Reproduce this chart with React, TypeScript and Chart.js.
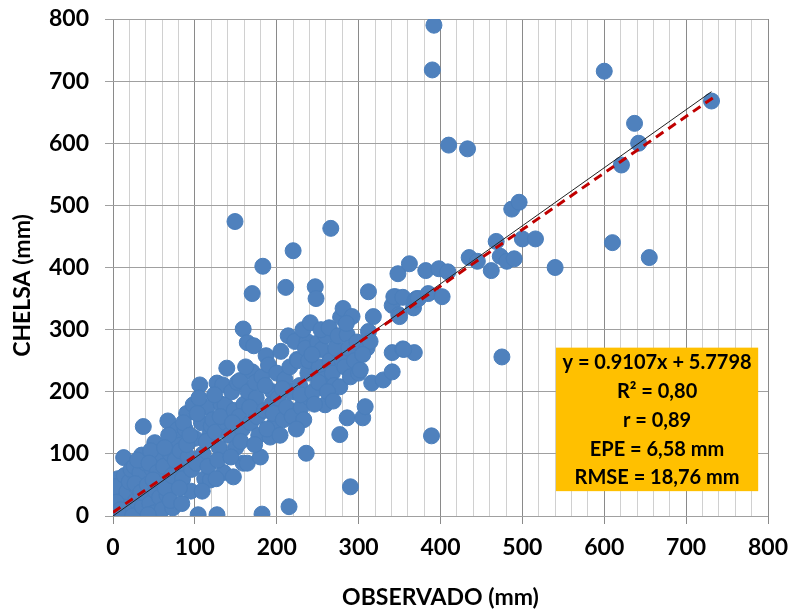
import React, { useEffect, useRef } from "react";
import { Chart, registerables } from "chart.js";

Chart.register(...registerables);

// OBSERVADO (mm) vs CHELSA (mm)
const points: [number, number][] = [
  [0, 0], [2, 5], [5, 15], [3, 30], [8, 2], [10, 45], [12, 20], [15, 8], [18, 35], [20, 0], [6, 60], [13, 94], [1, 14], [2, 47], [17, 39], [14, 65], [20, 55], [22, 75], [4, 22], [9, 10],
  [25, 10], [28, 25], [30, 45], [32, 5], [35, 98], [37, 144], [38, 60], [26, 80], [33, 70], [40, 30], [24, 0], [36, 15], [40, 85], [30, 90], [27, 52], [34, 38],
  [42, 50], [45, 20], [48, 75], [50, 5], [52, 40], [55, 95], [51, 118], [58, 60], [46, 105], [44, 85], [57, 30], [60, 10], [54, 70], [43, 2], [49, 58],
  [62, 80], [66, 34], [67, 153], [70, 100], [73, 13], [75, 55], [78, 120], [79, 139], [79, 79], [64, 45], [70, 25], [76, 90], [68, 130], [72, 65], [63, 110],
  [82, 105], [85, 60], [88, 140], [90, 165], [92, 95], [95, 40], [98, 179], [100, 125], [84, 20], [96, 75], [90, 115], [86, 150], [81, 45], [94, 130],
  [104, 2], [106, 211], [108, 150], [110, 100], [112, 60], [115, 175], [118, 130], [119, 58], [102, 85], [105, 190], [114, 120], [116, 80], [120, 145], [103, 165], [109, 40],
  [122, 155], [127, 214], [127, 2], [130, 110], [132, 180], [135, 70], [137, 179], [139, 238], [125, 135], [134, 211], [128, 90], [138, 150], [124, 195], [131, 160], [126, 60],
  [142, 130], [145, 200], [147, 63], [148, 170], [150, 110], [152, 215], [155, 218], [158, 140], [159, 85], [160, 180], [144, 95], [154, 160], [156, 120], [149, 474], [159, 301], [146, 150],
  [164, 85], [164, 279], [165, 200], [168, 150], [170, 232], [170, 358], [172, 274], [175, 190], [178, 130], [180, 95], [162, 240], [176, 160], [173, 115], [167, 175], [174, 215],
  [182, 3], [182, 224], [183, 402], [185, 170], [187, 258], [190, 243], [192, 127], [195, 200], [198, 150], [200, 230], [186, 210], [194, 180], [188, 140], [196, 165],
  [202, 190], [205, 265], [208, 155], [210, 220], [211, 368], [212, 175], [215, 15], [216, 240], [218, 200], [220, 427], [204, 130], [214, 290], [219, 160], [207, 205],
  [222, 281], [225, 252], [226, 250], [228, 210], [230, 175], [233, 155], [236, 101], [237, 281], [238, 230], [240, 190], [224, 140], [232, 300], [235, 270], [239, 250], [229, 195],
  [241, 311], [244, 200], [247, 369], [248, 350], [250, 279], [252, 240], [255, 268], [258, 220], [259, 179], [260, 290], [246, 180], [254, 300], [243, 260], [251, 215],
  [264, 303], [266, 463], [265, 250], [268, 230], [270, 210], [272, 270], [275, 290], [277, 208], [277, 131], [280, 250], [262, 200], [278, 320], [269, 185],
  [281, 334], [283, 240], [286, 158], [286, 292], [288, 270], [290, 224], [290, 47], [292, 321], [295, 250], [298, 280], [300, 230], [285, 310],
  [302, 235], [305, 158], [308, 176], [310, 270], [312, 361], [312, 297], [314, 281], [316, 214], [318, 321], [305, 260],
  [330, 219], [341, 232], [341, 263], [345, 353], [341, 339], [349, 324], [343, 353], [348, 390], [354, 269], [368, 263], [355, 268], [350, 321], [354, 352], [362, 406], [367, 335], [369, 348], [371, 350],
  [373, 350], [382, 395], [385, 358], [398, 398], [402, 353], [409, 393], [389, 129], [392, 790], [390, 718], [410, 597], [433, 591],
  [435, 416], [445, 410], [462, 395], [468, 442], [473, 418], [481, 410], [490, 414], [475, 256], [487, 494], [496, 505], [500, 446], [516, 446],
  [540, 400], [600, 716], [610, 440], [621, 565], [637, 632], [642, 600], [655, 416], [731, 668],
];

// Fitted line endpoints (y = 0.9107x + 5.7798) and reference line endpoints
const regressionLine: [number, number][] = [[0, 5.78], [733, 673.3]];
const blackLine: [number, number][] = [[0, 0], [731, 683]];

const annotationLines = [
  "y = 0.9107x + 5.7798",
  "R² = 0,80",
  "r = 0,89",
  "EPE = 6,58 mm",
  "RMSE = 18,76 mm",
];

const yTitle = "CHELSA (mm)";
const xTitle = "OBSERVADO (mm)";

const FONT = "Lato, 'Open Sans', sans-serif";
const AXIS_SIZE = 23;

const boxPlugin = {
  id: "statsBox",
  afterDatasetsDraw(chart: any) {
    const { ctx, scales } = chart;
    const x = scales.x, y = scales.y;
    const left = x.getPixelForValue(541);
    const right = x.getPixelForValue(788);
    const top = y.getPixelForValue(271);
    const bottom = y.getPixelForValue(40);
    ctx.save();
    ctx.fillStyle = "#FFC000";
    ctx.fillRect(left, top, right - left, bottom - top);
    ctx.fillStyle = "#000";
    ctx.font = `bold 20px ${FONT}`;
    ctx.textAlign = "center";
    ctx.textBaseline = "middle";
    const cx = (left + right) / 2;
    const step = (bottom - top) / annotationLines.length;
    annotationLines.forEach((t, i) => {
      ctx.fillText(t, cx, top + step * (i + 0.5) + 1);
    });
    ctx.restore();
  },
  afterDraw(chart: any) {
    const { ctx, chartArea } = chart;
    ctx.save();
    ctx.translate(23, (chartArea.top + chartArea.bottom) / 2 + 18);
    ctx.rotate(-Math.PI / 2);
    ctx.fillStyle = "#000";
    ctx.font = `bold ${AXIS_SIZE}px ${FONT}`;
    ctx.textAlign = "center";
    ctx.textBaseline = "middle";
    ctx.fillText(yTitle, 0, 0);
    ctx.restore();
  },
};

export default function App() {
  const ref = useRef<HTMLCanvasElement>(null);
  useEffect(() => {
    document.body.style.margin = "0";
    const canvas = ref.current!;
    const chart = new Chart(canvas, {
      type: "scatter",
      data: {
        datasets: [
          {
            label: "red",
            data: regressionLine.map(([x, y]) => ({ x, y })),
            showLine: true,
            borderColor: "#C00000",
            borderWidth: 3,
            borderDash: [9, 6],
            pointRadius: 0,
            order: 1,
          },
          {
            label: "black",
            data: blackLine.map(([x, y]) => ({ x, y })),
            showLine: true,
            borderColor: "#222",
            borderWidth: 1,
            pointRadius: 0,
            order: 2,
          },
          {
            label: "pts",
            data: points.map(([x, y]) => ({ x, y })),
            backgroundColor: "#4F81BD",
            borderColor: "#4A7EBB",
            borderWidth: 1,
            pointRadius: 8,
            order: 3,
          },
        ],
      },
      options: {
        animation: false,
        responsive: false,
        devicePixelRatio: 1,
        layout: { padding: { left: 0, right: 24, top: 19, bottom: 0 } },
        plugins: { legend: { display: false }, tooltip: { enabled: false } },
        scales: {
          x: {
            type: "linear",
            min: 0,
            max: 800,
            afterFit: (s: any) => { s.height = 95; s.paddingLeft = 0; s.paddingRight = 0; },
            border: { display: false },
            grid: {
              color: (c: any) => (c.tick && c.tick.value % 100 === 0 ? "#8a8a8a" : "#d0d0d0"),
              tickColor: (c: any) => (c.tick && c.tick.value % 100 === 0 ? "#8a8a8a" : "rgba(0,0,0,0)"),
              tickLength: 8,
              lineWidth: 1,
            },
            ticks: {
              stepSize: 20,
              autoSkip: false,
              maxRotation: 0,
              padding: 10,
              color: "#000",
              font: { family: FONT, size: AXIS_SIZE, weight: "bold" },
              callback: (v: any) => (Number(v) % 100 === 0 ? String(v) : ""),
            },
            title: {
              display: true,
              text: xTitle,
              color: "#000",
              font: { family: FONT, size: AXIS_SIZE, weight: "bold" },
              padding: { top: 0, bottom: 0 },
            },
          },
          y: {
            type: "linear",
            min: 0,
            max: 800,
            afterFit: (s: any) => { s.width = 113; s.paddingTop = 0; s.paddingBottom = 0; },
            border: { display: false },
            grid: {
              color: "#a0a0a0",
              tickColor: "#a0a0a0",
              tickLength: 8,
              lineWidth: 1,
            },
            ticks: {
              stepSize: 100,
              padding: 16,
              color: "#000",
              font: { family: FONT, size: AXIS_SIZE, weight: "bold" },
            },
            title: { display: false },
          },
        },
      },
      plugins: [boxPlugin],
    } as any);
    return () => chart.destroy();
  }, []);
  return <canvas ref={ref} width={792} height={611} style={{ display: "block" }} />;
}
